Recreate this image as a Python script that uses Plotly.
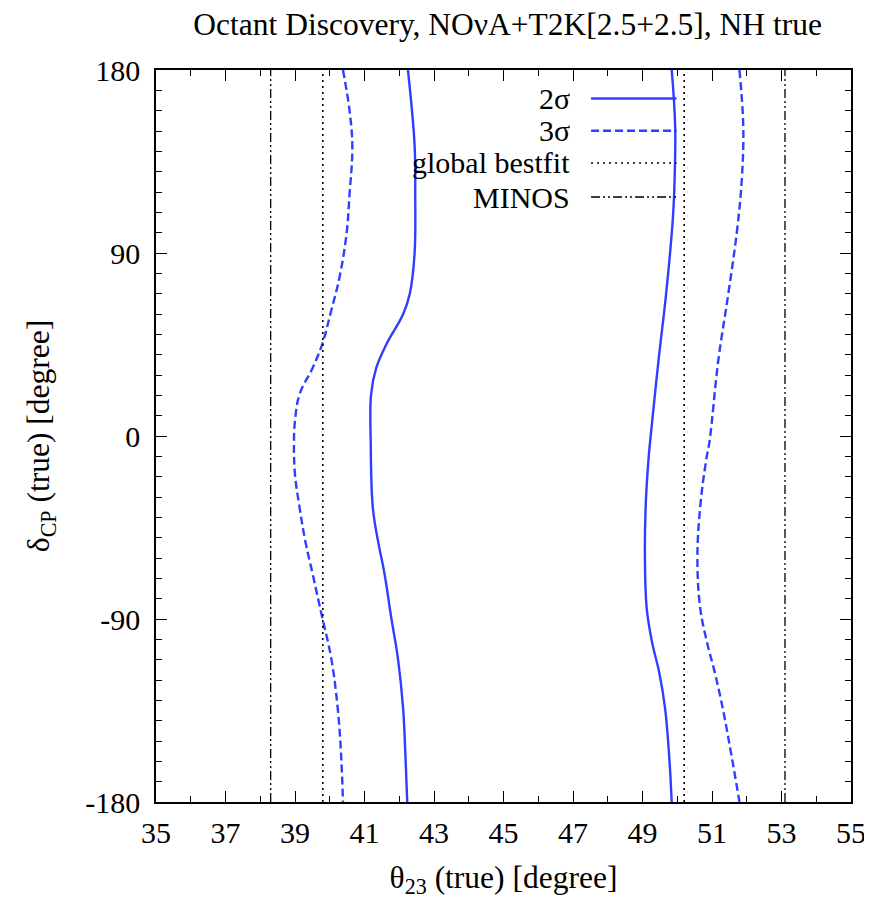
import plotly.graph_objects as go

# ---------------- data ----------------
left2_delta = [180, 143.5, 119, 89.4, 69.7, 59.9, 45.1, 33.6, 20.5, -4, -35.3, -51.7, -68.1, -89.4, -109.1, -133.7, -158, -180]
left2_theta = [42.25, 42.44, 42.46, 42.44, 42.30, 42.11, 41.63, 41.34, 41.19, 41.18, 41.24, 41.39, 41.58, 41.77, 41.96, 42.11, 42.18, 42.23]

right2_delta = [180, 152, 119, 106, 70, 37, -2.5, -12, -35, -60, -84.5, -101, -117, -134, -158, -180]
right2_theta = [49.84, 49.94, 49.91, 49.87, 49.68, 49.46, 49.22, 49.17, 49.09, 49.07, 49.12, 49.27, 49.49, 49.65, 49.77, 49.84]

left3_delta = [180, 160, 142, 119, 99, 78, 61.5, 45, 33.6, 20.5, 7.4, -3, -19, -35, -52, -68, -89, -109, -134, -158, -180]
left3_theta = [40.38, 40.57, 40.65, 40.57, 40.48, 40.28, 40.04, 39.78, 39.51, 39.13, 39.00, 38.97, 39.00, 39.13, 39.30, 39.51, 39.78, 40.04, 40.23, 40.33, 40.38]

right3_delta = [180, 152, 127, 102.5, 70, 37, -2.5, -12, -35, -60, -84.5, -101, -117, -134, -158, -180]
right3_theta = [51.79, 51.90, 51.86, 51.73, 51.47, 51.18, 50.93, 50.83, 50.66, 50.58, 50.66, 50.85, 51.09, 51.31, 51.57, 51.79]

bestfit_theta = [39.8, 50.2]
minos_theta = [38.3, 53.1]
delta_range = [-180, 180]

x_ticks = [35, 37, 39, 41, 43, 45, 47, 49, 51, 53, 55]
y_ticks = [-180, -90, 0, 90, 180]
y_tick_labels = ["-180", "-90", "0", "90", "180"]

legend_labels = ["2σ", "3σ", "global bestfit", "MINOS"]

title_text = "Octant Discovery, NOνA+T2K[2.5+2.5], NH true"

# ---------------- styles ----------------
BLUE = "#2f3fff"
FONT = "Liberation Serif"
FS = 30
FS_T = 31.5
DASH3 = "8px,4px"
DOT = "2px,4px"
MINOS_DASH = "9px,3px,2px,3px,2px,3px"
SMOOTH = 1.1

fig = go.Figure()

for d, t in [(left2_delta, left2_theta), (right2_delta, right2_theta)]:
    fig.add_trace(go.Scatter(x=t, y=d, mode="lines", line=dict(color=BLUE, width=2.4, shape="spline", smoothing=SMOOTH),
                             showlegend=False, hoverinfo="skip"))
for d, t in [(left3_delta, left3_theta), (right3_delta, right3_theta)]:
    fig.add_trace(go.Scatter(x=t, y=d, mode="lines", line=dict(color=BLUE, width=2.4, dash=DASH3, shape="spline", smoothing=SMOOTH),
                             showlegend=False, hoverinfo="skip"))
for v in bestfit_theta:
    fig.add_trace(go.Scatter(x=[v, v], y=delta_range, mode="lines", line=dict(color="black", width=1.6, dash=DOT),
                             showlegend=False, hoverinfo="skip"))
for v in minos_theta:
    fig.add_trace(go.Scatter(x=[v, v], y=delta_range, mode="lines", line=dict(color="black", width=1.3, dash=MINOS_DASH),
                             showlegend=False, hoverinfo="skip"))

# ---------------- manual legend (text left, line sample right) ----------------
leg_styles = [
    dict(color=BLUE, width=2.4, dash="solid"),
    dict(color=BLUE, width=2.4, dash=DASH3),
    dict(color="black", width=1.6, dash=DOT),
    dict(color="black", width=1.3, dash=MINOS_DASH),
]
leg_y = [0.961, 0.917, 0.873, 0.8265]
for lab, st, yy in zip(legend_labels, leg_styles, leg_y):
    fig.add_annotation(x=0.598, y=yy, xref="paper", yref="paper", text=lab, showarrow=False,
                       xanchor="right", yanchor="middle", font=dict(family=FONT, size=FS, color="black"))
    fig.add_shape(type="line", xref="paper", yref="paper", x0=0.626, x1=0.749, y0=yy, y1=yy, line=st)

axis_common = dict(
    showgrid=False, zeroline=False, showline=True, linecolor="black", linewidth=1.5, mirror="ticks",
    ticks="inside", ticklen=11, tickwidth=1.3, tickcolor="black",
    tickfont=dict(family=FONT, size=FS, color="black"),
)

fig.update_layout(
    width=872, height=902,
    margin=dict(l=148, r=29, t=62, b=108),
    paper_bgcolor="white", plot_bgcolor="white",
    title=dict(text=title_text, x=0.573, xanchor="center", y=0.982, yanchor="middle",
               font=dict(family=FONT, size=FS_T, color="black")),
    xaxis=dict(range=[35, 55], tickmode="array", tickvals=x_ticks, ticklabelstandoff=3,
               minor=dict(ticks="inside", dtick=1, tick0=35, ticklen=6, tickwidth=1.3, tickcolor="black"),
               title=dict(text="θ<sub>23</sub> (true) [degree]", font=dict(family=FONT, size=FS_T, color="black"), standoff=18),
               **axis_common),
    yaxis=dict(range=[-180, 180], tickmode="array", tickvals=y_ticks, ticktext=y_tick_labels, ticklabelstandoff=8,
               minor=dict(ticks="inside", dtick=10, tick0=-180, ticklen=6, tickwidth=1.3, tickcolor="black"),
               title=dict(text="δ<sub>CP</sub> (true) [degree]", font=dict(family=FONT, size=FS_T, color="black"), standoff=26),
               **axis_common),
    showlegend=False,
)

fig.write_html("out.html")
